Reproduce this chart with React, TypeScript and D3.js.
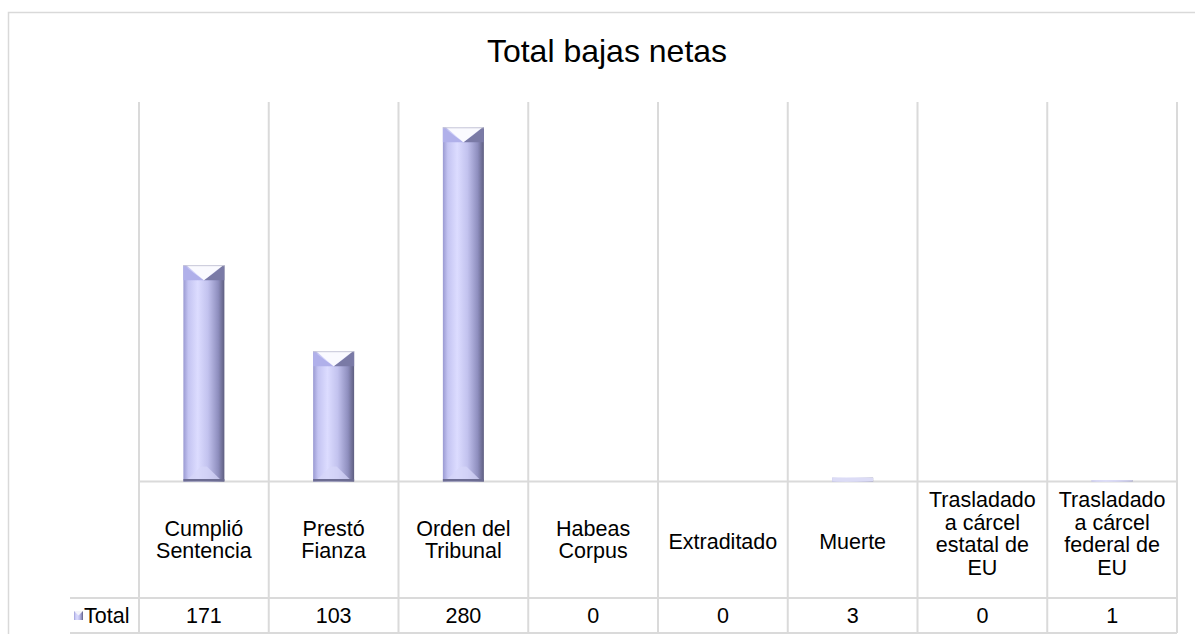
import React, { useEffect, useRef } from "react";
import * as d3 from "d3";

const categories = [
  "Cumplió Sentencia",
  "Prestó Fianza",
  "Orden del Tribunal",
  "Habeas Corpus",
  "Extraditado",
  "Muerte",
  "Trasladado a cárcel estatal de EU",
  "Trasladado a cárcel federal de EU",
];
const categoryLines = [
  ["Cumplió", "Sentencia"],
  ["Prestó", "Fianza"],
  ["Orden del", "Tribunal"],
  ["Habeas", "Corpus"],
  ["Extraditado"],
  ["Muerte"],
  ["Trasladado", "a cárcel", "estatal de", "EU"],
  ["Trasladado", "a cárcel", "federal de", "EU"],
];
const totals = [171, 103, 280, 0, 0, 3, 0, 1];
const seriesName = "Total";
const title = "Total bajas netas";
const yMax = 300;

const FONT = "'Liberation Sans', Arial, sans-serif";

const App = () => {
  const svgRef = useRef<SVGSVGElement>(null);
  const width = 1195, height = 634;
  const left = 139, right = 1177, top = 102, bottom = 481.5;
  const rowTop = 598, rowBottom = 633;

  useEffect(() => {
    const svg = d3.select(svgRef.current);
    svg.selectAll("*").remove();

    const defs = svg.append("defs");
    const grad = defs.append("linearGradient").attr("id", "barGrad")
      .attr("x1", "0").attr("x2", "1").attr("y1", "0").attr("y2", "0");
    [["0", "#9a9ad2"], ["0.12", "#c4c4f2"], ["0.35", "#dcdcff"], ["0.6", "#c2c2ee"],
     ["0.85", "#8e8ebe"], ["1", "#5e5e80"]].forEach(([o, c]) =>
      grad.append("stop").attr("offset", o).attr("stop-color", c));

    // outer chart border (clipped at right / bottom)
    svg.append("rect")
      .attr("x", 8.5).attr("y", 12.5).attr("width", 1300).attr("height", 700)
      .attr("fill", "none").attr("stroke", "#d9d9d9").attr("stroke-width", 1.5);

    svg.append("text")
      .attr("x", 607).attr("y", 62)
      .attr("text-anchor", "middle")
      .style("font-family", FONT).style("font-size", "32px").attr("fill", "#000")
      .text(title);

    const x = d3.scaleBand().domain(categories).range([left, right])
      .paddingInner(0.684).paddingOuter(0.342);
    const y = d3.scaleLinear().domain([0, yMax]).range([bottom, top]);
    const step = x.step();

    // vertical gridlines / table column lines
    const edges = d3.range(categories.length + 1).map(i => left + i * step);
    svg.append("g").selectAll("line").data(edges).join("line")
      .attr("x1", d => d).attr("x2", d => d)
      .attr("y1", top).attr("y2", rowBottom)
      .attr("stroke", "#dadada").attr("stroke-width", 2);

    // table horizontal lines
    svg.append("line").attr("x1", left).attr("x2", right).attr("y1", bottom).attr("y2", bottom)
      .attr("stroke", "#dadada").attr("stroke-width", 2);
    [rowTop, rowBottom].forEach(yy =>
      svg.append("line").attr("x1", 70).attr("x2", right).attr("y1", yy).attr("y2", yy)
        .attr("stroke", "#dadada").attr("stroke-width", 2));

    // bars with bevel
    const bars = svg.append("g");
    categories.forEach((c, i) => {
      const v = totals[i];
      if (v <= 0) return;
      const x0 = x(c)!, x1 = x0 + x.bandwidth(), cx = (x0 + x1) / 2;
      const yt = y(v), yb = y(0);
      const b = Math.min(15, (yb - yt) / 2);
      const g = bars.append("g");
      g.append("rect").attr("x", x0).attr("y", yt).attr("width", x1 - x0).attr("height", yb - yt)
        .attr("fill", "url(#barGrad)");
      if (b < 3) {
        g.append("rect").attr("x", x0).attr("y", yt).attr("width", x1 - x0).attr("height", yb - yt)
          .attr("fill", "#dcdcf6");
        return;
      }
      // top bevel
      g.append("polygon").attr("points", `${x0},${yt} ${cx},${yt + b} ${x0},${yt + b}`).attr("fill", "#b0b0ea");
      g.append("polygon").attr("points", `${x1},${yt} ${x1},${yt + b} ${cx},${yt + b}`).attr("fill", "#7a7aa6");
      g.append("polygon").attr("points", `${x0 + 3},${yt} ${x1 - 1},${yt} ${cx},${yt + b}`).attr("fill", "#fafaff");
      g.append("line").attr("x1", x0).attr("x2", x1).attr("y1", yt + 0.5).attr("y2", yt + 0.5)
        .attr("stroke", "#c8c8d8").attr("stroke-width", 1);
      // bottom bevel
      g.append("polygon").attr("points", `${x0 + 4},${yb - 2} ${x1 - 4},${yb - 2} ${cx + 3},${yb - b} ${cx - 3},${yb - b}`)
        .attr("fill", "#d6d6f8").attr("opacity", 0.75);
      g.append("rect").attr("x", x0).attr("y", yb - 2.5).attr("width", x1 - x0).attr("height", 2.5)
        .attr("fill", "#6c6c92");
    });

    // data table: category labels
    const lh = 22.5;
    const cellMid = (bottom + rowTop) / 2;
    categories.forEach((c, i) => {
      const lines = categoryLines[i];
      const n = lines.length;
      const shift = n === 1 ? 1 : n === 2 ? -1 : -7;
      const cx = x(c)! + x.bandwidth() / 2;
      const t = svg.append("text").attr("text-anchor", "middle")
        .style("font-family", FONT).style("font-size", "21.5px").attr("fill", "#000");
      lines.forEach((ln, j) => {
        t.append("tspan").attr("x", cx)
          .attr("y", cellMid + shift - ((n - 1) * lh) / 2 + 8 + j * lh)
          .text(ln);
      });
    });

    // values row
    const rowMid = (rowTop + rowBottom) / 2;
    categories.forEach((c, i) => {
      svg.append("text").attr("x", x(c)! + x.bandwidth() / 2).attr("y", rowMid + 7.5)
        .attr("text-anchor", "middle")
        .style("font-family", FONT).style("font-size", "21.5px").attr("fill", "#000")
        .text(totals[i]);
    });

    // legend key + series name
    const kx = 74, ky = rowMid - 4.5;
    svg.append("rect").attr("x", kx).attr("y", ky).attr("width", 9).attr("height", 9).attr("fill", "url(#barGrad)");
    svg.append("polygon").attr("points", `${kx},${ky} ${kx + 9},${ky} ${kx + 4.5},${ky + 4.5}`).attr("fill", "#f4f4fa");
    svg.append("text").attr("x", kx + 10).attr("y", rowMid + 7.5)
      .style("font-family", FONT).style("font-size", "21.5px").attr("fill", "#000")
      .text(seriesName);
  }, []);

  return (
    <div style={{ position: "absolute", left: 0, top: 0 }}>
      <svg ref={svgRef} width={width} height={height} style={{ display: "block" }}></svg>
    </div>
  );
};

export default App;
